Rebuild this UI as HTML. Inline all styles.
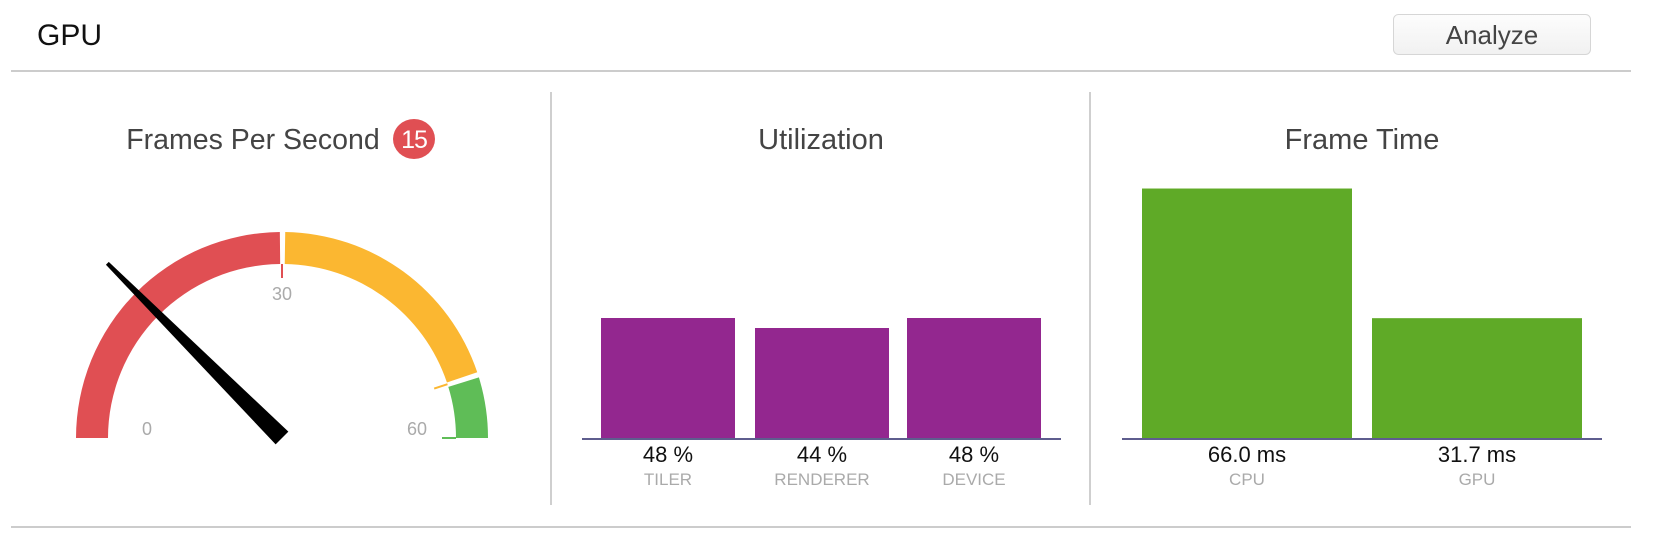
<!DOCTYPE html>
<html><head><meta charset="utf-8"><style>
body{margin:0;background:#fff;width:1680px;height:540px;overflow:hidden;font-family:"Liberation Sans",sans-serif}
svg{display:block}
</style></head><body>
<svg id="c" width="1680" height="540" viewBox="0 0 1680 540">
  <text x="37" y="45" font-size="30" fill="#111">GPU</text>
  <g>
    <defs><linearGradient id="bg" x1="0" y1="0" x2="0" y2="1"><stop offset="0" stop-color="#fdfdfd"/><stop offset="1" stop-color="#f1f1f1"/></linearGradient></defs>
    <rect x="1393.5" y="14.5" width="197" height="40" rx="5" fill="url(#bg)" stroke="#d6d6d6"/>
    <text x="1492" y="44" font-size="26" fill="#444" text-anchor="middle">Analyze</text>
  </g>
  <rect x="11" y="70" width="1620" height="2" fill="#cccccc"/>
  <rect x="11" y="526" width="1620" height="2" fill="#cccccc"/>
  <rect x="550" y="92" width="2" height="413" fill="#cfcfcf"/>
  <rect x="1089" y="92" width="2" height="413" fill="#cfcfcf"/>

  <text x="253" y="149" font-size="28.5" fill="#444" text-anchor="middle">Frames Per Second</text>
  <g>
    <ellipse cx="414" cy="139" rx="21" ry="20" fill="#e04f53"/>
    <text id="fpsText" x="414" y="148" font-size="25" fill="#fff" text-anchor="middle" letter-spacing="-1"></text>
  </g>
  <text x="821" y="149" font-size="29" fill="#444" text-anchor="middle">Utilization</text>
  <text x="1362" y="149" font-size="29" fill="#444" text-anchor="middle">Frame Time</text>

  <g id="gauge"></g>
  <g id="util"></g>
  <g id="ft"></g>
</svg>
<script>
const fpsValue = 15;
const gaugeStarts = [0, 30, 54];
const gaugeEnds = [30, 54, 60];
const gaugeColors = ['#e04f53', '#fbb731', '#5fbd57'];
const gaugeTicks = [0, 30, 60];

const utilCategories = ['TILER', 'RENDERER', 'DEVICE'];
const utilValues = [48, 44, 48];

const ftCategories = ['CPU', 'GPU'];
const ftValues = [66.0, 31.7];

const NS = 'http://www.w3.org/2000/svg';
function mk(tag, attrs, parent){const e=document.createElementNS(NS,tag);for(const k in attrs)e.setAttribute(k,attrs[k]);parent.appendChild(e);return e;}

// Gauge
const g = document.getElementById('gauge');
const cx=282, cy=438, R=206, r=174;
const ang = v => (180 - v*3) * Math.PI/180;
const pt = (a, rad) => [cx + rad*Math.cos(a), cy - rad*Math.sin(a)];
gaugeStarts.forEach((s,i)=>{
  const a1 = ang(gaugeEnds[i]) + (i<2?0.6*Math.PI/180:0);
  const A0 = ang(s) - (i>0?0.9*Math.PI/180:0);
  const o0=pt(A0,R), o1=pt(a1,R), i1=pt(a1,r), i0=pt(A0,r);
  const p = mk('path',{d:`M${o0} A${R} ${R} 0 0 1 ${o1} L${i1} A${r} ${r} 0 0 0 ${i0} Z`,fill:gaugeColors[i]},g);
  
  
  const e = ang(gaugeEnds[i]);
  const t1 = pt(e, r), t2 = pt(e, r-14);
  const tk = mk('line',{x1:t1[0],y1:t1[1],x2:t2[0],y2:t2[1],stroke:gaugeColors[i],'stroke-width':2},g);
  
  
});
const labelPos = [[147,435],[282,300],[417,435]];
gaugeTicks.forEach((v,i)=>{
  const t = mk('text',{x:labelPos[i][0],y:labelPos[i][1],'font-size':18,fill:'#aaa','text-anchor':'middle'},g);
  t.textContent = v;
  
  
});
{
  const a = ang(fpsValue), L = 247;
  const tip = pt(a, L);
  const px = Math.sin(a), py = Math.cos(a);
  const bw=9, tw=2;
  const pts = [[cx+px*bw,cy+py*bw],[tip[0]+px*tw,tip[1]+py*tw],[tip[0]-px*tw,tip[1]-py*tw],[cx-px*bw,cy-py*bw]];
  const n = mk('polygon',{points:pts.map(p=>p.join(',')).join(' '),fill:'#000'},g);
  
  
}
document.getElementById('fpsText').textContent = fpsValue;

// Utilization chart
const u = document.getElementById('util');
const base = 439;
const uScale = v => v * 2.5;
const uX = [601, 755, 907], uW = 134;
mk('rect',{x:582,y:base-1,width:479,height:2,fill:'#5e5d8e'},u);
utilValues.forEach((v,i)=>{
  const h = uScale(v);
  const b = mk('rect',{x:uX[i],y:base-h-1,width:uW,height:h,fill:'#93278f'},u);
  
  
  const t = mk('text',{x:uX[i]+uW/2,y:462,'font-size':22,fill:'#111','text-anchor':'middle'},u);
  t.textContent = v + ' %';
  
  
  const l = mk('text',{x:uX[i]+uW/2,y:485,'font-size':17,fill:'#aaa','text-anchor':'middle'},u);
  l.textContent = utilCategories[i];
  
  
});

// Frame time chart
const f = document.getElementById('ft');
const fScale = v => v * 3.78;
const fX = [1142, 1372], fW = 210;
mk('rect',{x:1122,y:base-1,width:480,height:2,fill:'#5e5d8e'},f);
ftValues.forEach((v,i)=>{
  const h = fScale(v);
  const b = mk('rect',{x:fX[i],y:base-h-1,width:fW,height:h,fill:'#5faa27'},f);
  
  
  const t = mk('text',{x:fX[i]+fW/2,y:462,'font-size':22,fill:'#111','text-anchor':'middle'},f);
  t.textContent = v.toFixed(1) + ' ms';
  
  
  const l = mk('text',{x:fX[i]+fW/2,y:485,'font-size':17,fill:'#aaa','text-anchor':'middle'},f);
  l.textContent = ftCategories[i];
  
  
});
</script>
</body></html>
